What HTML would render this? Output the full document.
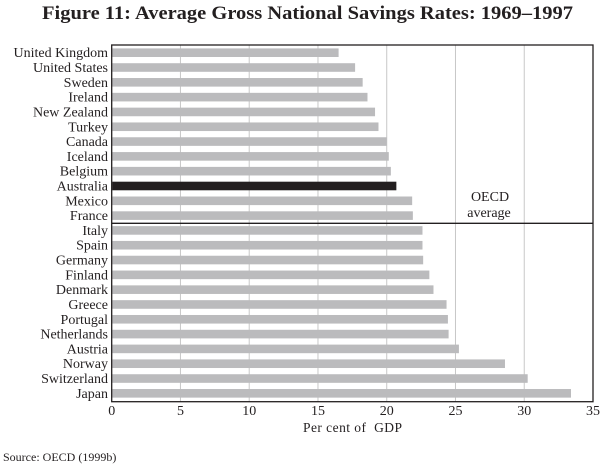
<!DOCTYPE html>
<html><head><meta charset="utf-8"><style>
body{margin:0;background:#fff;width:600px;height:467px;overflow:hidden;font-family:"Liberation Serif",serif}
svg text{font-family:"Liberation Serif",serif;fill:#231f20}
</style></head><body>
<svg width="600" height="467" viewBox="0 0 600 467">
<text x="42" y="19" font-size="19" font-weight="bold" textLength="531" lengthAdjust="spacingAndGlyphs">Figure 11: Average Gross National Savings Rates: 1969–1997</text>
<g id="grid"></g><g id="bars"></g><g id="labels"></g><g id="ticks"></g>
<rect x="111.7" y="45" width="481.3" height="356.7" fill="none" stroke="#231f20" stroke-width="1.3"/>
<line x1="111.7" x2="593" y1="223.3" y2="223.3" stroke="#231f20" stroke-width="1.3"/>
<text x="490" y="201" text-anchor="middle" font-size="14">OECD</text>
<text x="489" y="217" text-anchor="middle" font-size="14">average</text>
<text x="303" y="432" font-size="13.5" xml:space="preserve" textLength="99">Per cent of  GDP</text>
<text x="3" y="461" font-size="12">Source: OECD (1999b)</text>
</svg>
<script>
const categories=["United Kingdom","United States","Sweden","Ireland","New Zealand","Turkey","Canada","Iceland","Belgium","Australia","Mexico","France","Italy","Spain","Germany","Finland","Denmark","Greece","Portugal","Netherlands","Austria","Norway","Switzerland","Japan"];
const values=[16.5,17.7,18.25,18.6,19.15,19.4,20.0,20.15,20.3,20.7,21.85,21.9,22.6,22.6,22.65,23.1,23.4,24.35,24.45,24.5,25.25,28.6,30.25,33.4];
const xTicks=[0,5,10,15,20,25,30,35];
const NS="http://www.w3.org/2000/svg";
const x0=111.7,x1=593,xmax=35;
const xs=v=>x0+v/xmax*(x1-x0);
const ys=i=>52.7+i*14.81;
const grid=document.getElementById('grid'),bars=document.getElementById('bars'),labels=document.getElementById('labels'),ticks=document.getElementById('ticks');
xTicks.forEach(t=>{
 if(t>0&&t<xmax){const l=document.createElementNS(NS,'line');
 l.setAttribute('x1',xs(t));l.setAttribute('x2',xs(t));l.setAttribute('y1',45);l.setAttribute('y2',401.7);
 l.setAttribute('stroke','#c8c8c8');l.setAttribute('stroke-width','1');
 
 
 grid.appendChild(l);}
 const tx=document.createElementNS(NS,'text');
 tx.setAttribute('x',xs(t));tx.setAttribute('y',415);tx.setAttribute('text-anchor','middle');tx.setAttribute('font-size','14');
 tx.textContent=t;
 
 
 ticks.appendChild(tx);
});
categories.forEach((c,i)=>{
 const r=document.createElementNS(NS,'rect');
 r.setAttribute('x',x0+0.5);r.setAttribute('y',ys(i)-4.3);r.setAttribute('width',xs(values[i])-x0-0.5);r.setAttribute('height',8.6);
 r.setAttribute('fill',c==='Australia'?'#231f20':'#bbbbbd');
 
 
 bars.appendChild(r);
 const t=document.createElementNS(NS,'text');
 t.setAttribute('x',108);t.setAttribute('y',ys(i)+4.5);t.setAttribute('text-anchor','end');t.setAttribute('font-size','14');
 t.textContent=c;
 
 
 labels.appendChild(t);
});
</script>
</body></html>
